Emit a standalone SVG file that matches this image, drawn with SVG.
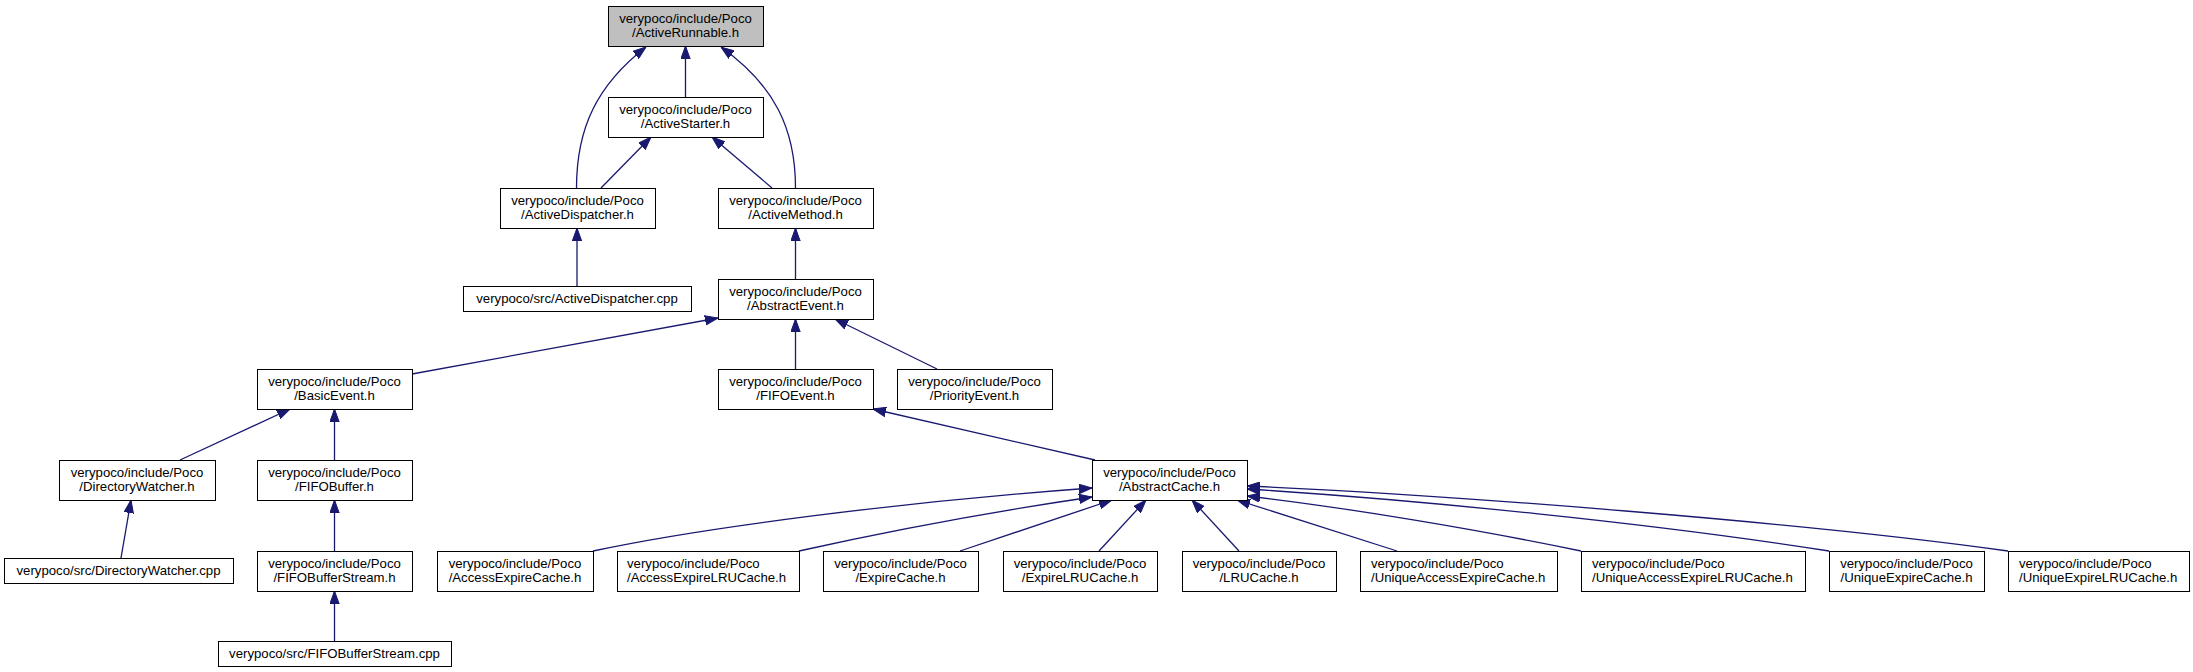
<svg xmlns="http://www.w3.org/2000/svg" width="2193" height="672" viewBox="0 0 2193 672">
<style>
.n rect{fill:#ffffff;stroke:#000000;stroke-width:1}
.root rect{fill:#bfbfbf}
.n text{font-family:"Liberation Sans",Arial,sans-serif;font-size:13.2px;fill:#000000;text-anchor:middle}
.n text.l{text-anchor:start}
.e path{fill:none;stroke:#191970;stroke-width:1.3;marker-end:url(#ah)}
</style>
<defs>
<marker id="ah" viewBox="0 0 13 10" refX="13" refY="5" markerWidth="13" markerHeight="10" markerUnits="userSpaceOnUse" orient="auto">
<path d="M0,0.3 L13,5 L0,9.7 z" fill="#191970" stroke="#191970" stroke-width="1"/>
</marker>
</defs>
<rect width="2193" height="672" fill="#ffffff"/>
<g id="connectors" class="e">
<path d="M576.5,188 C576.5,128 597,85 646,47"/>
<path d="M685.5,97 L685.5,46"/>
<path d="M795.5,188 C795.5,128 774,85 721,47"/>
<path d="M601,188 L651,137"/>
<path d="M772,188 L712,137"/>
<path d="M577,286 L577,228"/>
<path d="M795.5,279 L795.5,228"/>
<path d="M412,374 L718,318"/>
<path d="M795.5,369 L795.5,319"/>
<path d="M937,369 L835,319"/>
<path d="M180,460 L290,409"/>
<path d="M334.5,460 L334.5,409"/>
<path d="M121,558 L131,500"/>
<path d="M334.5,551 L334.5,500"/>
<path d="M334.5,641 L334.5,591"/>
<path d="M1095,460 L873,409"/>
<path d="M593,551 C700,528 900,502 1092,488"/>
<path d="M799,551 C880,533 990,512 1092,497"/>
<path d="M960,551 L1112,500"/>
<path d="M1099,551 L1146,500"/>
<path d="M1239,551 L1192,500"/>
<path d="M1397,551 L1237,500"/>
<path d="M1581,551 C1480,530 1350,508 1247,496"/>
<path d="M1829,551 C1650,523 1420,500 1247,489"/>
<path d="M2008,551 C1800,522 1450,495 1247,486"/>
</g>
<g id="n_ActiveRunnable" class="n root"><rect x="608.5" y="6.5" width="155" height="40"/><text x="685.5" y="22.7">verypoco/include/Poco</text><text x="685.5" y="36.7">/ActiveRunnable.h</text></g>
<g id="n_ActiveStarter" class="n"><rect x="608.5" y="97.5" width="155" height="40"/><text x="685.5" y="113.7">verypoco/include/Poco</text><text x="685.5" y="127.7">/ActiveStarter.h</text></g>
<g id="n_ActiveDispatcher" class="n"><rect x="500.5" y="188.5" width="155" height="40"/><text x="577.5" y="204.7">verypoco/include/Poco</text><text x="577.5" y="218.7">/ActiveDispatcher.h</text></g>
<g id="n_ActiveMethod" class="n"><rect x="718.5" y="188.5" width="155" height="40"/><text x="795.5" y="204.7">verypoco/include/Poco</text><text x="795.5" y="218.7">/ActiveMethod.h</text></g>
<g id="n_ActiveDispatcherCpp" class="n"><rect x="463.5" y="286.5" width="228" height="25"/><text x="577" y="302.5">verypoco/src/ActiveDispatcher.cpp</text></g>
<g id="n_AbstractEvent" class="n"><rect x="718.5" y="279.5" width="155" height="40"/><text x="795.5" y="295.7">verypoco/include/Poco</text><text x="795.5" y="309.7">/AbstractEvent.h</text></g>
<g id="n_BasicEvent" class="n"><rect x="257.5" y="369.5" width="155" height="40"/><text x="334.5" y="385.7">verypoco/include/Poco</text><text x="334.5" y="399.7">/BasicEvent.h</text></g>
<g id="n_FIFOEvent" class="n"><rect x="718.5" y="369.5" width="155" height="40"/><text x="795.5" y="385.7">verypoco/include/Poco</text><text x="795.5" y="399.7">/FIFOEvent.h</text></g>
<g id="n_PriorityEvent" class="n"><rect x="897.5" y="369.5" width="155" height="40"/><text x="974.5" y="385.7">verypoco/include/Poco</text><text x="974.5" y="399.7">/PriorityEvent.h</text></g>
<g id="n_DirectoryWatcher" class="n"><rect x="59.5" y="460.5" width="156" height="40"/><text x="137" y="476.7">verypoco/include/Poco</text><text x="137" y="490.7">/DirectoryWatcher.h</text></g>
<g id="n_FIFOBuffer" class="n"><rect x="257.5" y="460.5" width="155" height="40"/><text x="334.5" y="476.7">verypoco/include/Poco</text><text x="334.5" y="490.7">/FIFOBuffer.h</text></g>
<g id="n_AbstractCache" class="n"><rect x="1092.5" y="460.5" width="155" height="40"/><text x="1169.5" y="476.7">verypoco/include/Poco</text><text x="1169.5" y="490.7">/AbstractCache.h</text></g>
<g id="n_DirectoryWatcherCpp" class="n"><rect x="4.5" y="558.5" width="229" height="25"/><text x="118.5" y="574.5">verypoco/src/DirectoryWatcher.cpp</text></g>
<g id="n_FIFOBufferStreamH" class="n"><rect x="257.5" y="551.5" width="155" height="40"/><text x="334.5" y="567.7">verypoco/include/Poco</text><text x="334.5" y="581.7">/FIFOBufferStream.h</text></g>
<g id="n_FIFOBufferStreamCpp" class="n"><rect x="218.5" y="641.5" width="233" height="25"/><text x="334.5" y="657.5">verypoco/src/FIFOBufferStream.cpp</text></g>
<g id="n_AccessExpireCache" class="n"><rect x="437.5" y="551.5" width="156" height="40"/><text x="515" y="567.7">verypoco/include/Poco</text><text x="515" y="581.7">/AccessExpireCache.h</text></g>
<g id="n_AccessExpireLRUCache" class="n"><rect x="617.5" y="551.5" width="182" height="40"/><text class="l" x="627" y="567.7">verypoco/include/Poco</text><text class="l" x="627" y="581.7">/AccessExpireLRUCache.h</text></g>
<g id="n_ExpireCache" class="n"><rect x="823.5" y="551.5" width="155" height="40"/><text x="900.5" y="567.7">verypoco/include/Poco</text><text x="900.5" y="581.7">/ExpireCache.h</text></g>
<g id="n_ExpireLRUCache" class="n"><rect x="1003.5" y="551.5" width="154" height="40"/><text x="1080" y="567.7">verypoco/include/Poco</text><text x="1080" y="581.7">/ExpireLRUCache.h</text></g>
<g id="n_LRUCache" class="n"><rect x="1182.5" y="551.5" width="154" height="40"/><text x="1259" y="567.7">verypoco/include/Poco</text><text x="1259" y="581.7">/LRUCache.h</text></g>
<g id="n_UniqueAccessExpireCache" class="n"><rect x="1360.5" y="551.5" width="197" height="40"/><text class="l" x="1371" y="567.7">verypoco/include/Poco</text><text class="l" x="1371" y="581.7">/UniqueAccessExpireCache.h</text></g>
<g id="n_UniqueAccessExpireLRUCache" class="n"><rect x="1581.5" y="551.5" width="224" height="40"/><text class="l" x="1592" y="567.7">verypoco/include/Poco</text><text class="l" x="1592" y="581.7">/UniqueAccessExpireLRUCache.h</text></g>
<g id="n_UniqueExpireCache" class="n"><rect x="1829.5" y="551.5" width="155" height="40"/><text x="1906.5" y="567.7">verypoco/include/Poco</text><text x="1906.5" y="581.7">/UniqueExpireCache.h</text></g>
<g id="n_UniqueExpireLRUCache" class="n"><rect x="2008.5" y="551.5" width="181" height="40"/><text class="l" x="2019" y="567.7">verypoco/include/Poco</text><text class="l" x="2019" y="581.7">/UniqueExpireLRUCache.h</text></g>
</svg>
